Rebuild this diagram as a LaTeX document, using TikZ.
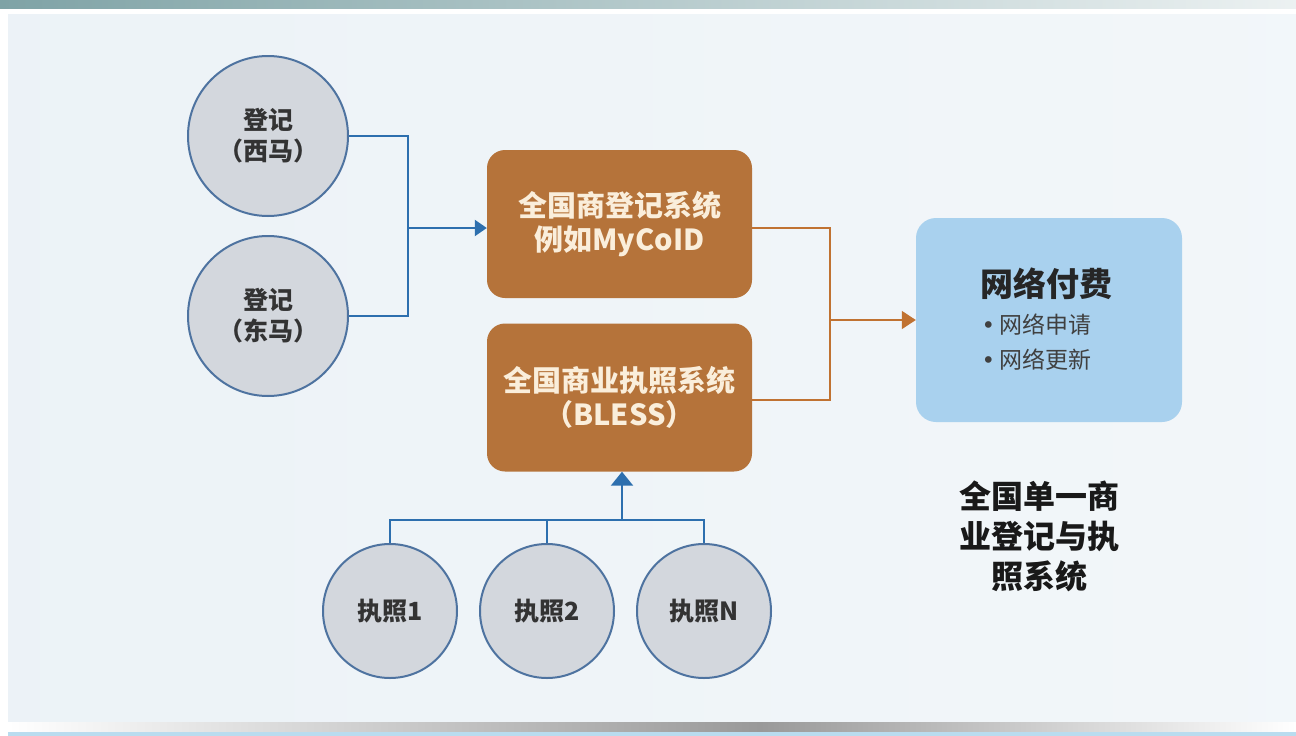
\documentclass[tikz,border=0pt]{standalone}
\usepackage{fontspec}
\setmainfont{Noto Sans CJK SC}
\newfontfamily\dejavu{DejaVu Sans}
\usetikzlibrary{arrows.meta}
\definecolor{panel}{HTML}{EAF1F6}
\definecolor{topband}{HTML}{7FA3A6}
\definecolor{bottomline}{HTML}{B9DCEF}
\definecolor{circfill}{HTML}{D3D7DD}
\definecolor{circline}{HTML}{4E73A0}
\definecolor{bluelink}{HTML}{2D6FAE}
\definecolor{brownbox}{HTML}{B5733A}
\definecolor{orangelink}{HTML}{C07232}
\definecolor{paybox}{HTML}{A9D1EE}
\definecolor{boxtext}{HTML}{FAEEDB}
\newcommand{\bul}{{\dejavu •}\hspace{4pt}}
\tikzset{
  circ/.style={circle, fill=circfill, draw=circline, line width=2pt, inner sep=0pt, align=center, text=black!80, font=\fontsize{25}{31}\selectfont\bfseries},
  bigcirc/.style={circ, minimum size=160pt},
  smallcirc/.style={circ, minimum size=134pt},
  sysbox/.style={rectangle, rounded corners=18pt, fill=brownbox, minimum width=265pt, minimum height=148pt, align=center, text=boxtext, font=\fontsize{29}{34}\selectfont\bfseries},
  bullet/.style={font=\fontsize{23}{26}\selectfont, text=black!75, anchor=west},
  bluearrow/.style={draw=bluelink, line width=2.2pt},
  orangearrow/.style={draw=orangelink, line width=1.6pt},
}
\begin{document}
\begin{tikzpicture}[x=1pt,y=-1pt]
\useasboundingbox (0,0) rectangle (1296,736);
% background
\fill[white] (0,0) rectangle (1296,736);
\shade[left color=panel!90!white, right color=panel!60!white] (8,14) rectangle (1296,724);
\shade[left color=topband, right color=topband!15!white] (0,0) rectangle (1296,8);
\shade[left color=white, right color=black!40] (8,722) rectangle (760,732);
\shade[left color=black!40, right color=white] (760,722) rectangle (1296,732);
\fill[bottomline] (8,732) rectangle (1296,736);
% nodes
\node[bigcirc] (west) at (268,136) {登记\\（西马）};
\node[bigcirc] (east) at (268,316) {登记\\（东马）};
\node[sysbox] (mycoid) at (619.5,224) {全国商登记系统\\例如MyCoID};
\node[sysbox] (bless) at (619.5,397.5) {全国商业执照系统\\（BLESS）};
\node[rectangle, rounded corners=20pt, fill=paybox, minimum width=266pt, minimum height=204pt] (pay) at (1049,320) {};
\node[font=\fontsize{33}{38}\selectfont\bfseries, text=black!85] (paytitle) at (1046,284) {网络付费};
\node[bullet] (app) at (978,325) {\bul 网络申请};
\node[bullet] (ren) at (978,360) {\bul 网络更新};
\node[font=\fontsize{32}{40}\selectfont\bfseries, text=black!90, align=center] (title) at (1039,536) {全国单一商\\业登记与执\\照系统};
\node[smallcirc] (l1) at (390,611) {执照1};
\node[smallcirc] (l2) at (547,611) {执照2};
\node[smallcirc] (ln) at (704,611) {执照N};
% blue connectors top-left
\coordinate (jx) at (408,228);
\draw[bluearrow] (west.east) -| (jx) |- (east.east);
\draw[bluearrow, -{Triangle[length=12pt,width=16pt]}] (jx) -- (mycoid.west |- jx);
% orange connectors
\coordinate (ox) at (830,320);
\draw[orangearrow] (mycoid.east |- 0,228) -| (ox) |- (bless.east |- 0,400);
\draw[orangearrow, -{Triangle[length=14pt,width=18pt]}] (ox) -- (pay.west |- ox);
% blue connectors bottom
\coordinate (bus) at (622,520);
\draw[bluearrow] (l1.north) -- (l1.north |- bus) -- (ln.north |- bus) -- (ln.north);
\draw[bluearrow] (l2.north) -- (l2.north |- bus);
\draw[bluearrow, -{Triangle[length=14pt,width=22pt]}] (bus) -- (bus |- bless.south);
\end{tikzpicture}
\end{document}
